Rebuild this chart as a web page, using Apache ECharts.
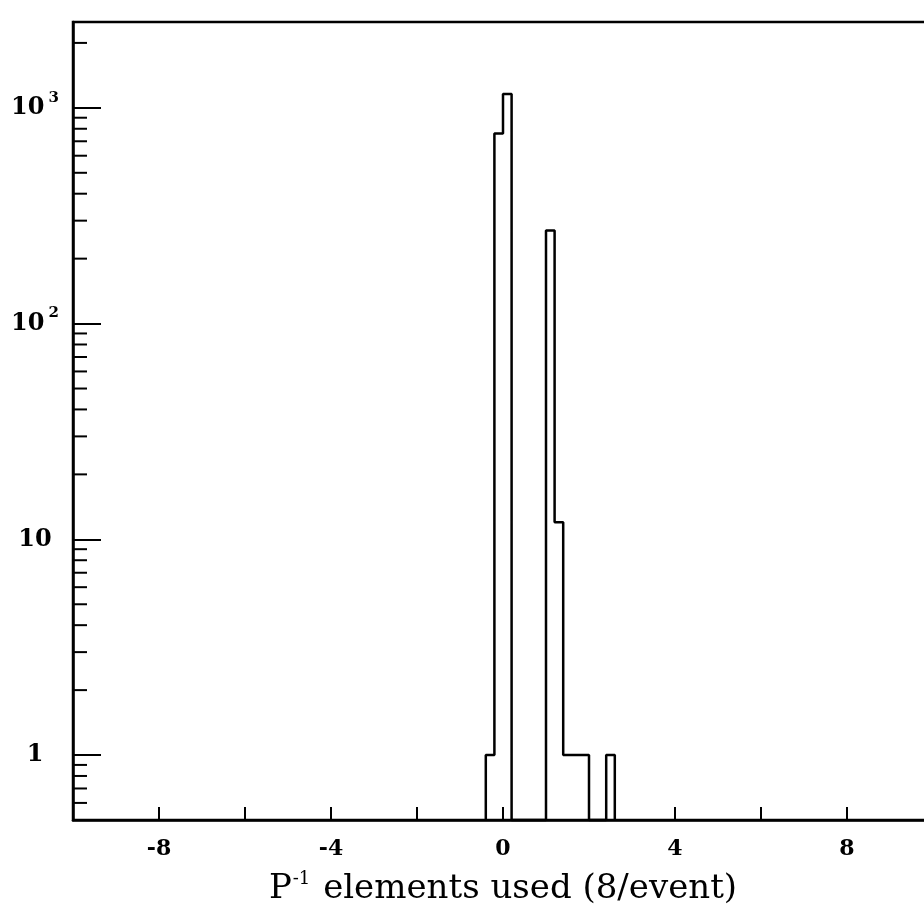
<!DOCTYPE html>
<html>
<head>
<meta charset="utf-8">
<script src="https://cdn.jsdelivr.net/npm/echarts@6/dist/echarts.min.js"></script>
<style>
  html, body { margin: 0; padding: 0; background: #fff; overflow: hidden; }
  #chart { width: 924px; height: 923px; }
</style>
</head>
<body>
<div id="chart"></div>
<script>
// Histogram of P^-1 elements used per event (bin width 0.2)
const binLeft  = [-0.4, -0.2, 0.0, 1.0, 1.2, 1.4, 1.6, 1.8, 2.4];
const binCount = [1, 760, 1160, 270, 12, 1, 1, 1, 1];
const binWidth = 0.2;

// Axis ranges and tick values
const xRange = [-10, 10];
const yRange = [0.5, 2500];
const xTickStep = 2;
const xLabelValues = [-8, -4, 0, 4, 8];
const yMinorTicks = [0.6, 0.7, 0.8, 0.9,
  2, 3, 4, 5, 6, 7, 8, 9,
  20, 30, 40, 50, 60, 70, 80, 90,
  200, 300, 400, 500, 600, 700, 800, 900,
  2000];

// Outline of the histogram, dropping to the lower axis limit between separated groups
function outline() {
  const base = yRange[0];
  const pts = [];
  let prevRight = null;
  for (let i = 0; i < binLeft.length; i++) {
    const l = binLeft[i], r = +(l + binWidth).toFixed(6), c = binCount[i];
    if (prevRight === null || Math.abs(prevRight - l) > 1e-6) {
      if (prevRight !== null) pts.push([prevRight, base]);
      pts.push([l, base]);
    }
    pts.push([l, c], [r, c]);
    prevRight = r;
  }
  pts.push([prevRight, base]);
  return pts;
}

const serif = '"DejaVu Serif", "Liberation Serif", serif';
const chart = echarts.init(document.getElementById('chart'), null, { renderer: 'canvas' });

chart.setOption({
  backgroundColor: '#ffffff',
  animation: false,
  grid: {
    // the frame runs past the right edge of the page
    left: 73, width: 860, top: 22, height: 798,
    outerBoundsMode: 'none',
    containLabel: false,
    show: true, borderColor: '#000', borderWidth: 2.5, backgroundColor: 'transparent'
  },
  xAxis: {
    type: 'value',
    min: xRange[0], max: xRange[1], interval: xTickStep,
    name: '{p|P}{s|-1}{t| elements used (8/event)}',
    nameLocation: 'middle',
    nameGap: 50,
    nameTextStyle: {
      align: 'center',
      rich: {
        p: { fontFamily: serif, fontSize: 34, color: '#000' },
        s: { fontFamily: serif, fontSize: 18, color: '#000', padding: [0, 2, 20, 1] },
        t: { fontFamily: serif, fontSize: 34, color: '#000' }
      }
    },
    splitLine: { show: false },
    axisLine: { show: true, onZero: false, lineStyle: { color: '#000', width: 2.5 } },
    axisTick: { show: true, inside: true, length: 13, lineStyle: { color: '#000', width: 2 } },
    axisLabel: {
      margin: 18,
      showMinLabel: false, showMaxLabel: false,
      fontFamily: serif, fontWeight: 'bold', fontSize: 22, color: '#000',
      formatter: v => xLabelValues.indexOf(Math.round(v)) >= 0 ? String(Math.round(v)) : ''
    }
  },
  yAxis: {
    type: 'log', logBase: 10,
    min: yRange[0], max: yRange[1],
    splitLine: { show: false },
    axisLine: { show: true, onZero: false, lineStyle: { color: '#000', width: 2.5 } },
    axisTick: { show: true, inside: true, length: 28, lineStyle: { color: '#000', width: 2 } },
    minorTick: { show: false },
    axisLabel: {
      align: 'center',
      margin: 38,
      showMinLabel: false, showMaxLabel: false,
      formatter: v => {
        const e = Math.round(Math.log10(v));
        if (Math.abs(Math.log10(v) - e) > 1e-6) return '';
        if (e === 0) return '{b|1}';
        if (e === 1) return '{b|10}';
        return '{b|10}{s|' + e + '}';
      },
      rich: {
        b: { fontFamily: serif, fontWeight: 'bold', fontSize: 24, color: '#000' },
        s: { fontFamily: serif, fontWeight: 'bold', fontSize: 15, color: '#000', padding: [0, 0, 20, 4] }
      }
    }
  },
  series: [
    {
      type: 'line',
      data: outline(),
      symbol: 'none',
      clip: false,
      lineStyle: { color: '#000', width: 2.5 },
      z: 3
    },
    {
      // minor decade ticks (2..9 × 10^k) on the log axis
      type: 'custom',
      data: yMinorTicks.map(v => [xRange[0], v]),
      clip: false,
      renderItem: (params, api) => {
        const p = api.coord([api.value(0), api.value(1)]);
        return {
          type: 'line',
          shape: { x1: p[0], y1: p[1], x2: p[0] + 14, y2: p[1] },
          style: { stroke: '#000', lineWidth: 2 }
        };
      },
      z: 2
    }
  ]
});
</script>
</body>
</html>
